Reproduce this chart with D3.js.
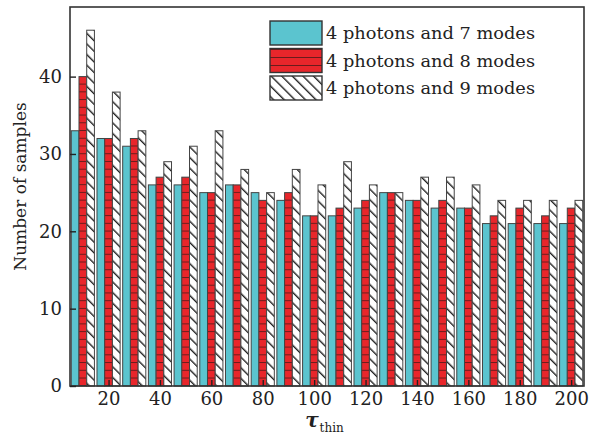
<!DOCTYPE html>
<html lang="en">
<head>
    <meta charset="UTF-8">
    <title>Number of samples vs tau_thin</title>
    <script src="https://d3js.org/d3.v7.min.js"></script>
    <style>
        body { margin: 0; background: #fff; }
        text { font-family: "DejaVu Serif", serif; fill: #222; }
        .bar { stroke: #444; stroke-width: 1; }
    </style>
</head>
<body>
<svg width="597" height="434"></svg>
<script>
    // tau_thin values (group positions)
    const tau = [10, 20, 30, 40, 50, 60, 70, 80, 90, 100, 110, 120, 130, 140, 150, 160, 170, 180, 190, 200];
    const modes7 = [33, 32, 31, 26, 26, 25, 26, 25, 24, 22, 22, 23, 25, 24, 23, 23, 21, 21, 21, 21];
    const modes8 = [40, 32, 32, 27, 27, 25, 26, 24, 25, 22, 23, 24, 25, 24, 24, 23, 22, 23, 22, 23];
    const modes9 = [46, 38, 33, 29, 31, 33, 28, 25, 28, 26, 29, 26, 25, 27, 27, 26, 24, 24, 24, 24];
    const seriesNames = ["4 photons and 7 modes", "4 photons and 8 modes", "4 photons and 9 modes"];
    const xTicks = [20, 40, 60, 80, 100, 120, 140, 160, 180, 200];
    const yTicks = [0, 10, 20, 30, 40];

    const svg = d3.select("svg");
    const margin = {left: 70, top: 7, right: 13, bottom: 48};
    const W = 597 - margin.left - margin.right,
        H = 434 - margin.top - margin.bottom;

    const x = d3.scaleLinear().domain([5, 205]).range([0, W]);
    const y = d3.scaleLinear().domain([0, 49]).range([H, 0]);

    // patterns
    const defs = svg.append("defs");
    const red = defs.append("pattern").attr("id", "redH")
        .attr("patternUnits", "userSpaceOnUse").attr("width", 10).attr("height", y(0) - y(1))
        .attr("y", margin.top + y(0));
    red.append("rect").attr("width", 10).attr("height", 20).attr("fill", "#e8262b");
    red.append("line").attr("x1", 0).attr("x2", 10).attr("y1", 0.5).attr("y2", 0.5)
        .attr("stroke", "#6a1c1c").attr("stroke-width", 1);

    const hatch = defs.append("pattern").attr("id", "hatch")
        .attr("patternUnits", "userSpaceOnUse").attr("width", 7.5).attr("height", 7.5)
        .attr("patternTransform", "rotate(-45)");
    hatch.append("rect").attr("width", 8).attr("height", 8).attr("fill", "#fff");
    hatch.append("line").attr("x1", 0.7).attr("x2", 0.7).attr("y1", 0).attr("y2", 8)
        .attr("stroke", "#222").attr("stroke-width", 1.4);

    const redLeg = defs.append("pattern").attr("id", "redLeg")
        .attr("patternUnits", "userSpaceOnUse").attr("width", 10).attr("height", 8)
        .attr("y", margin.top + 14 + 27.5);
    redLeg.append("rect").attr("width", 10).attr("height", 8).attr("fill", "#e8262b");
    redLeg.append("line").attr("x1", 0).attr("x2", 10).attr("y1", 0.5).attr("y2", 0.5)
        .attr("stroke", "#6a1c1c").attr("stroke-width", 1);

    const fills = ["#5bc4cf", "url(#redH)", "url(#hatch)"];
    const series = [modes7, modes8, modes9];
    const bw = 3;  // bar width in x units
    const offsets = [-4.5, -1.5, 1.5];

    const g = svg.append("g").attr("transform", `translate(${margin.left},${margin.top})`);

    series.forEach((vals, si) => {
        g.append("g").selectAll("rect")
            .data(tau.map((t, i) => ({t, v: vals[i]})))
            .enter().append("rect")
            .attr("class", "bar")
            .attr("x", d => x(d.t + offsets[si]))
            .attr("width", x(bw) - x(0))
            .attr("y", d => y(d.v))
            .attr("height", d => y(0) - y(d.v))
            .attr("fill", fills[si]);
    });

    // frame
    g.append("rect").attr("width", W).attr("height", H)
        .attr("fill", "none").attr("stroke", "#333").attr("stroke-width", 1.6);

    // axes with inward ticks
    const xAxis = g.append("g").attr("transform", `translate(0,${H})`)
        .call(d3.axisBottom(x).tickValues(xTicks).tickSizeInner(-6).tickSizeOuter(0).tickPadding(6));
    const yAxis = g.append("g")
        .call(d3.axisLeft(y).tickValues(yTicks).tickSizeInner(-6).tickSizeOuter(0).tickPadding(8));
    [xAxis, yAxis].forEach(a => {
        a.select(".domain").remove();
        a.selectAll("line").attr("stroke", "#222").attr("stroke-width", 1.4);
        a.selectAll("text").attr("font-size", 18).attr("font-family", "DejaVu Serif").attr("fill", "#222");
    });

    // axis titles
    g.append("text")
        .attr("transform", `translate(-44,${H / 2 - 10}) rotate(-90)`)
        .attr("text-anchor", "middle")
        .attr("font-size", 17)
        .text("Number of samples");

    const xt = g.append("text")
        .attr("x", x(104))
        .attr("y", H + 41)
        .attr("text-anchor", "middle");
    xt.append("tspan").attr("font-size", 20).attr("font-style", "italic").attr("font-weight", "bold").text("τ");
    xt.append("tspan").attr("font-size", 12).attr("dx", 1).attr("dy", 5).text("thin");

    // legend
    const lg = g.append("g").attr("transform", "translate(200,14)");
    seriesNames.forEach((name, i) => {
        const row = lg.append("g").attr("transform", `translate(0,${i * 27.5})`);
        row.append("rect").attr("width", 52).attr("height", 24)
            .attr("fill", i === 1 ? "url(#redLeg)" : fills[i])
            .attr("stroke", "#333").attr("stroke-width", 1.4);
        row.append("text").attr("x", 56).attr("y", 18).attr("font-size", 17.3)
            .attr("textLength", 209).attr("lengthAdjust", "spacingAndGlyphs").text(name);
    });
</script>
</body>
</html>
